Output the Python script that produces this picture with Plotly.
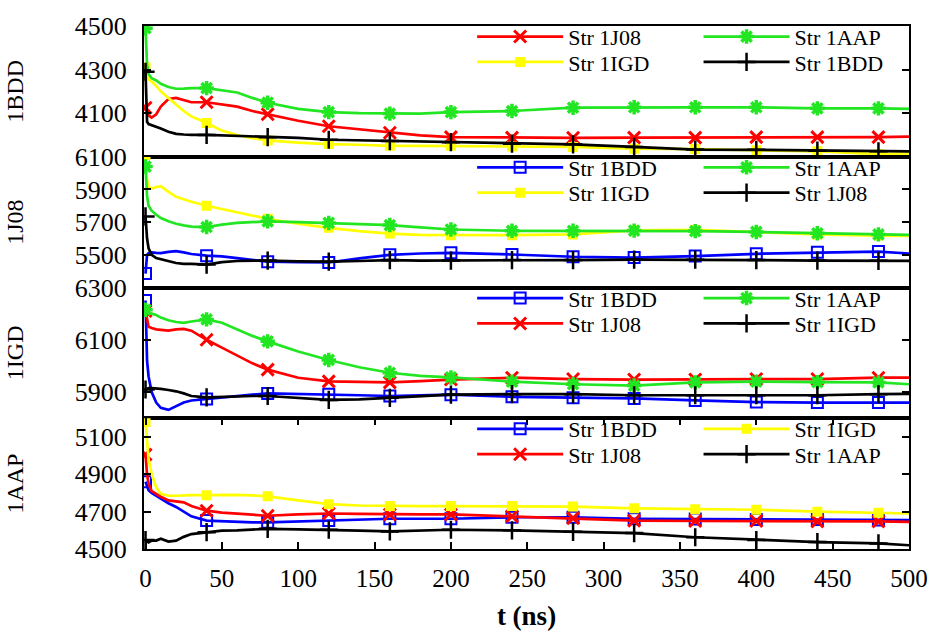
import plotly.graph_objects as go

# ---------------- data ----------------
T = [0, 1, 2, 4, 7, 10, 15, 20, 25, 30, 40, 50, 60, 70, 80, 100, 120, 140, 160,
     180, 200, 240, 280, 320, 360, 400, 440, 480, 500]
MARK_STEP = 40

PANELS = ["1BDD", "1J08", "1IGD", "1AAP"]

# panel 1BDD
bdd_1J08 = [4125, 4110, 4090, 4080, 4095, 4130, 4165, 4170, 4160, 4150, 4150, 4140, 4130, 4110, 4095,
            4065, 4040, 4025, 4010, 3998, 3990, 3988, 3987, 3988, 3988, 3990, 3990, 3990, 3992]
bdd_1IGD = [4310, 4270, 4255, 4245, 4225, 4200, 4170, 4140, 4110, 4085, 4055, 4020, 4000, 3985, 3975,
            3965, 3958, 3955, 3950, 3950, 3950, 3947, 3945, 3937, 3935, 3930, 3925, 3912, 3915]
bdd_1AAP = [4490, 4320, 4280, 4260, 4250, 4235, 4220, 4212, 4213, 4215, 4215, 4205, 4195, 4170, 4148,
            4120, 4105, 4100, 4098, 4098, 4105, 4110, 4125, 4127, 4127, 4127, 4122, 4122, 4120]
bdd_1BDD = [4290, 4060, 4050, 4045, 4040, 4030, 4015, 4005, 4002, 4000, 4000, 3998, 3995, 3993, 3990,
            3987, 3978, 3975, 3972, 3970, 3967, 3960, 3957, 3945, 3933, 3932, 3928, 3925, 3925]

# panel 1J08
j08_1BDD = [5385, 5500, 5510, 5515, 5512, 5510, 5518, 5522, 5515, 5505, 5495, 5490, 5480, 5468, 5458,
            5455, 5453, 5478, 5500, 5508, 5512, 5502, 5488, 5483, 5492, 5506, 5515, 5520, 5508]
j08_1IGD = [6110, 5960, 5915, 5905, 5915, 5920, 5885, 5855, 5840, 5825, 5800, 5780, 5760, 5740, 5720,
            5690, 5665, 5645, 5630, 5622, 5620, 5620, 5625, 5650, 5652, 5640, 5625, 5618, 5615]
j08_1AAP = [6040, 5860, 5800, 5770, 5745, 5725, 5705, 5690, 5680, 5672, 5670, 5685, 5695, 5700, 5705,
            5700, 5695, 5690, 5682, 5668, 5655, 5647, 5647, 5648, 5645, 5640, 5632, 5625, 5622]
j08_1J08 = [5735, 5600, 5540, 5500, 5480, 5472, 5460, 5450, 5445, 5445, 5440, 5455, 5462, 5465, 5465,
            5460, 5458, 5462, 5468, 5465, 5465, 5468, 5468, 5470, 5470, 5468, 5465, 5463, 5463]

# panel 1IGD
igd_1BDD = [6250, 6020, 5960, 5900, 5860, 5840, 5832, 5845, 5860, 5868, 5874, 5880, 5885, 5890, 5895,
            5893, 5892, 5888, 5885, 5888, 5890, 5882, 5878, 5876, 5868, 5862, 5860, 5860, 5860]
igd_1J08 = [6210, 6180, 6150, 6145, 6140, 6138, 6135, 6140, 6142, 6135, 6100, 6070, 6040, 6010, 5986,
            5955, 5941, 5938, 5937, 5942, 5948, 5955, 5950, 5948, 5948, 5950, 5950, 5955, 5955]
igd_1AAP = [6215, 6210, 6205, 6200, 6195, 6185, 6175, 6168, 6165, 6170, 6178, 6165, 6140, 6115, 6094,
            6055, 6023, 5995, 5974, 5962, 5956, 5940, 5930, 5925, 5937, 5940, 5938, 5937, 5930]
igd_1IGD = [5910, 5912, 5915, 5915, 5914, 5912, 5908, 5903, 5895, 5885, 5880, 5882, 5884, 5885, 5885,
            5878, 5870, 5872, 5878, 5885, 5890, 5892, 5892, 5888, 5888, 5888, 5888, 5892, 5893]

# panel 1AAP
aap_1BDD = [4860, 4830, 4815, 4800, 4785, 4770, 4745, 4725, 4700, 4675, 4652, 4648, 4645, 4643, 4643,
            4648, 4652, 4658, 4662, 4662, 4662, 4670, 4670, 4662, 4660, 4658, 4658, 4655, 4655]
aap_1J08 = [5005, 4900, 4850, 4810, 4795, 4780, 4760, 4755, 4750, 4730, 4705, 4695, 4688, 4682, 4678,
            4685, 4690, 4688, 4685, 4685, 4685, 4675, 4665, 4652, 4650, 4650, 4648, 4648, 4645]
aap_1IGD = [5180, 5060, 4980, 4900, 4830, 4795, 4785, 4785, 4787, 4788, 4788, 4790, 4790, 4787, 4782,
            4760, 4740, 4733, 4730, 4730, 4730, 4730, 4727, 4718, 4713, 4710, 4700, 4694, 4690]
aap_1AAP = [4548, 4540, 4535, 4545, 4545, 4555, 4540, 4545, 4565, 4580, 4590, 4598, 4600, 4605, 4608,
            4605, 4603, 4598, 4594, 4600, 4603, 4600, 4592, 4585, 4563, 4548, 4537, 4530, 4520]

Y_RANGES = [[3900, 4500], [5300, 6100], [5800, 6300], [4500, 5200]]
Y_TICKS = [[4100, 4300, 4500], [5500, 5700, 5900, 6100], [5900, 6100, 6300], [4500, 4700, 4900, 5100]]
X_TICKS = [0, 50, 100, 150, 200, 250, 300, 350, 400, 450, 500]

# series per panel, in key order (column 1 row 1, column 1 row 2, column 2 row 1, column 2 row 2)
PANEL_SERIES = [
    [("1J08", bdd_1J08), ("1IGD", bdd_1IGD), ("1AAP", bdd_1AAP), ("1BDD", bdd_1BDD)],
    [("1BDD", j08_1BDD), ("1IGD", j08_1IGD), ("1AAP", j08_1AAP), ("1J08", j08_1J08)],
    [("1BDD", igd_1BDD), ("1J08", igd_1J08), ("1AAP", igd_1AAP), ("1IGD", igd_1IGD)],
    [("1BDD", aap_1BDD), ("1J08", aap_1J08), ("1IGD", aap_1IGD), ("1AAP", aap_1AAP)],
]

# ---------------- styles ----------------
STYLE = {
    "1J08": dict(color="#ff0000", symbol="x-thin-open", size=12, lw=3),
    "1AAP": dict(color="#22e622", symbol="asterisk-open", size=12, lw=3.5),
    "1IGD": dict(color="#ffff00", symbol="square", size=10, lw=0),
    "1BDD": dict(color="#0000ff", symbol="square-open", size=11, lw=2),
}
SELF = dict(color="#000000", symbol="cross-thin-open", size=13, lw=2.5)

FONT = "Liberation Serif"
W, H = 940, 638
ML, MR, MT, MB = 144, 29, 19, 84
PW, PH = W - ML - MR, H - MT - MB
n = len(PANELS)
ph = 1.0 / n

fig = go.Figure()
for p, (pname, series) in enumerate(zip(PANELS, PANEL_SERIES)):
    ax = "" if p == 0 else str(p + 1)
    for k, (sname, vals) in enumerate(series):
        st = SELF if sname == pname else STYLE[sname]
        mcol = [st["color"] if (t % MARK_STEP == 0 and t < 500) else "rgba(0,0,0,0)" for t in T]
        idx = 4 * p + k
        legend_id = "legend" + ("" if idx == 0 else str(idx + 1))
        fig.add_trace(go.Scatter(
            x=T, y=vals, name="Str " + sname, mode="lines+markers",
            line=dict(color=st["color"], width=2.7),
            marker=dict(symbol=st["symbol"], size=st["size"], color=mcol,
                        line=dict(width=st["lw"])),
            xaxis="x" + ax, yaxis="y" + ax, legend=legend_id, showlegend=True,
        ))

layout = dict(
    width=W, height=H, margin=dict(l=ML, r=MR, t=MT, b=MB),
    paper_bgcolor="white", plot_bgcolor="white", showlegend=True,
    font=dict(family=FONT, size=22, color="black"),
)

for p in range(n):
    ax = "" if p == 0 else str(p + 1)
    dom = [1 - (p + 1) * ph, 1 - p * ph]
    bottom = (p == n - 1)
    layout["xaxis" + ax] = dict(
        domain=[0, 1], anchor="y" + ax, range=[-1, 500],
        matches=None if p == 0 else "x",
        showline=True, linecolor="black", linewidth=2, mirror="ticks" if bottom else True,
        ticks="inside" if bottom else "", ticklen=7, tickwidth=1.5, tickcolor="black",
        tickvals=X_TICKS, showticklabels=bottom, showgrid=False, zeroline=False,
        tickfont=dict(family=FONT, size=25), ticklabelstandoff=6, tickangle=0,
        title=dict(text="t (ns)" if bottom else "",
                   font=dict(family=FONT, size=27, weight="bold"), standoff=15),
    )
    layout["yaxis" + ax] = dict(
        domain=dom, anchor="x" + ax, range=Y_RANGES[p], tickvals=Y_TICKS[p],
        showline=True, linecolor="black", linewidth=2, mirror="ticks",
        ticks="inside", ticklen=7, tickwidth=1.5, tickcolor="black",
        showgrid=False, zeroline=False,
        tickfont=dict(family=FONT, size=26), ticklabelstandoff=10,
        title=dict(text=PANELS[p], font=dict(family=FONT, size=24), standoff=44),
    )

# one key entry per series, two columns x two rows in each panel
col_px = [473, 700]
row_off = [11, 37]
for p in range(n):
    top_px = MT + p * PH / n
    for k in range(4):
        idx = 4 * p + k
        lid = "legend" + ("" if idx == 0 else str(idx + 1))
        c, r = k // 2, k % 2
        layout[lid] = dict(
            xref="paper", yref="paper",
            x=(col_px[c] - ML) / PW, y=1 - (top_px + row_off[r] - MT) / PH,
            xanchor="left", yanchor="middle",
            bgcolor="rgba(0,0,0,0)", borderwidth=0,
            font=dict(family=FONT, size=22, color="black"),
            itemwidth=86, visible=True,
        )

fig.update_layout(layout)
fig.write_html("out.html")
